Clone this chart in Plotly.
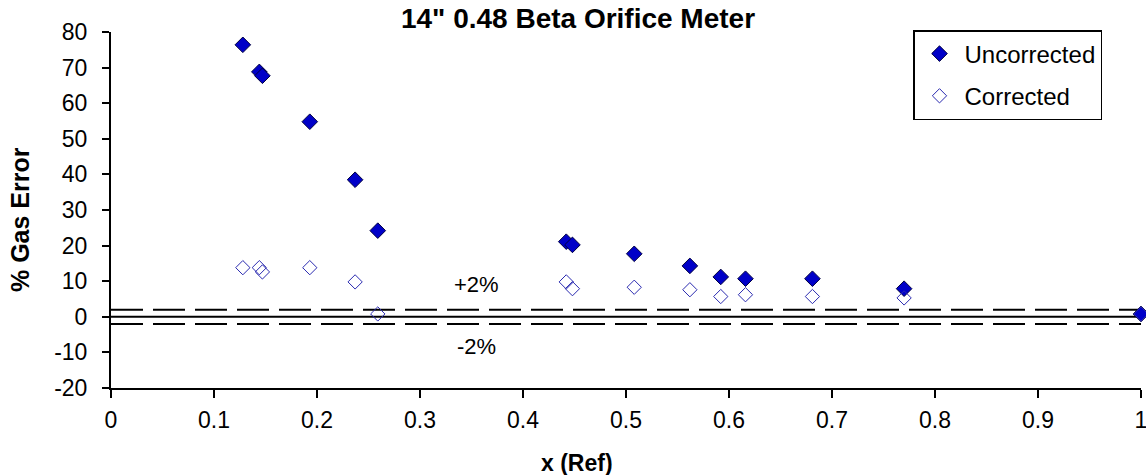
import plotly.graph_objects as go

# Data
x_uncorr = [0.128, 0.144, 0.147, 0.193, 0.237, 0.259, 0.442, 0.448, 0.508, 0.562, 0.592, 0.616, 0.681, 0.770, 1.0]
y_uncorr = [76.4, 68.8, 67.7, 54.8, 38.5, 24.2, 21.1, 20.2, 17.7, 14.3, 11.2, 10.7, 10.7, 7.9, 0.8]
x_corr = [0.128, 0.144, 0.147, 0.193, 0.237, 0.259, 0.442, 0.448, 0.508, 0.562, 0.592, 0.616, 0.681, 0.770, 1.0]
y_corr = [13.8, 13.8, 12.6, 13.8, 9.8, 0.8, 9.8, 7.9, 8.3, 7.6, 5.7, 6.2, 5.7, 5.3, 0.8]

limit_x = [0, 1]
upper_limit = [2, 2]
zero_line = [0, 0]
lower_limit = [-2, -2]

x_ticks = [0, 0.1, 0.2, 0.3, 0.4, 0.5, 0.6, 0.7, 0.8, 0.9, 1]
x_tick_labels = ["0", "0.1", "0.2", "0.3", "0.4", "0.5", "0.6", "0.7", "0.8", "0.9", "1"]
y_ticks = [-20, -10, 0, 10, 20, 30, 40, 50, 60, 70, 80]
y_tick_labels = ["-20", "-10", "0", "10", "20", "30", "40", "50", "60", "70", "80"]

FONT = "Liberation Sans, Arial, sans-serif"

fig = go.Figure()

for yy, dash in [(upper_limit, "32px,10px"), (zero_line, "solid"), (lower_limit, "32px,10px")]:
    fig.add_trace(go.Scatter(
        x=limit_x, y=yy, mode="lines", showlegend=False, hoverinfo="skip",
        line=dict(color="black", width=2, dash=dash), cliponaxis=False,
    ))

fig.add_trace(go.Scatter(
    x=x_uncorr, y=y_uncorr, mode="markers", name="Uncorrected", legendgroup="a",
    marker=dict(symbol="diamond", size=12, color="#0000c8", line=dict(color="#000040", width=1)),
    cliponaxis=False,
))
fig.add_trace(go.Scatter(
    x=x_corr, y=y_corr, mode="markers", name="Corrected", legendgroup="b",
    marker=dict(symbol="diamond-open", size=11, color="#2a2ab0", line=dict(width=1)),
    cliponaxis=False,
))

fig.add_annotation(x=0.355, y=9.0, text="+2%", showarrow=False,
                   font=dict(family=FONT, size=22, color="black"))
fig.add_annotation(x=0.355, y=-8.4, text="-2%", showarrow=False,
                   font=dict(family=FONT, size=22, color="black"))

# axis titles
fig.add_annotation(xref="paper", yref="paper", x=(577 - 111) / 1030, y=-75 / 356,
                   text="<b>x (Ref)</b>", showarrow=False, yanchor="middle",
                   font=dict(family=FONT, size=23, color="black"))
fig.add_annotation(xref="paper", yref="paper", x=-91 / 1030, y=(388 - 220) / 356,
                   text="<b>% Gas Error</b>", showarrow=False, textangle=-90,
                   xanchor="center", yanchor="middle",
                   font=dict(family=FONT, size=25, color="black"))

fig.update_layout(
    width=1146, height=475,
    margin=dict(l=111, r=5, t=32, b=87, autoexpand=False),
    paper_bgcolor="white", plot_bgcolor="white",
    font=dict(family=FONT, size=22, color="black"),
    title=dict(text="<b>14\" 0.48 Beta Orifice Meter</b>", x=578 / 1146, xanchor="center",
               y=1 - 18 / 475, yanchor="middle", font=dict(family=FONT, size=28, color="black")),
    legend=dict(
        x=(913 - 111) / 1030, y=(388 - 30) / 356, xanchor="left", yanchor="top",
        bordercolor="black", borderwidth=1.5, bgcolor="white",
        font=dict(family=FONT, size=24, color="black"),
        tracegroupgap=8, itemwidth=40, entrywidth=176,
    ),
    showlegend=True,
)

fig.update_xaxes(
    range=[0, 1], tickvals=x_ticks, ticktext=x_tick_labels,
    showgrid=False, zeroline=False, showline=True, linecolor="black", linewidth=2,
    ticks="outside", ticklen=8, tickwidth=2, tickcolor="black",
    tickfont=dict(family=FONT, size=23), ticklabelstandoff=2,
    ticklabeloverflow="allow", automargin=False,
)
fig.update_yaxes(
    range=[-20, 80], tickvals=y_ticks, ticktext=y_tick_labels,
    showgrid=False, zeroline=False, showline=True, linecolor="black", linewidth=2,
    ticks="outside", ticklen=7, tickwidth=2, tickcolor="black",
    tickfont=dict(family=FONT, size=23), ticklabelstandoff=10, automargin=False,
)

fig.write_html("out.html")
